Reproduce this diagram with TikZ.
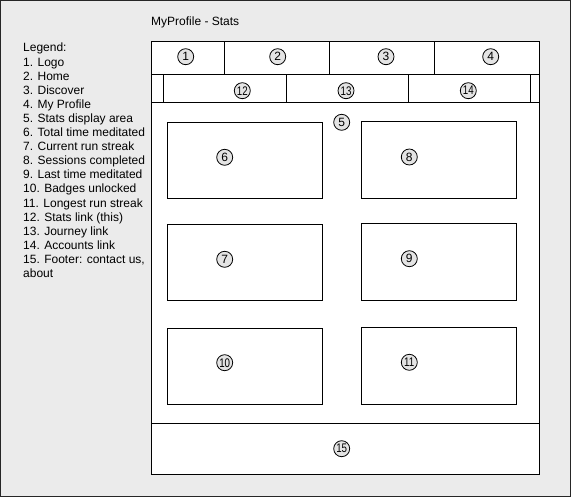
\documentclass[tikz,border=0pt]{standalone}
\usepackage{fontspec}
\setmainfont{Liberation Sans}
\definecolor{bg}{HTML}{EBEBEB}
\definecolor{badgefill}{HTML}{E4E4E4}
\tikzset{
  frame/.style={draw=black, line width=1pt},
  panel/.style={draw=black, line width=1pt, fill=white},
  badge/.style={circle, draw=black, line width=0.8pt, fill=badgefill, minimum size=16pt, inner sep=0pt, font=\fontsize{12}{12}\selectfont},
  badgetwo/.style={badge, font=\fontsize{12.5}{12.5}\selectfont},
  legendline/.style={anchor=base west, inner sep=0pt, font=\fontsize{12}{14}\selectfont}
}
\newcommand{\twodig}[1]{\makebox[10pt]{\scalebox{0.78}[1]{#1}}}
\begin{document}
\begin{tikzpicture}[x=1pt,y=-1pt]
\useasboundingbox (0,0) rectangle (571,497);
% background and outer border
\draw[fill=bg, draw=black!85, line width=1pt] (0.5,0.5) rectangle (570.5,496.5);
% title
\node[legendline] (title) at (151,25.5) {MyProfile - Stats};
% legend
\foreach \t [count=\i from 0] in {Legend:, 1. Logo, 2. Home, 3. Discover, 4. My Profile, 5. Stats display area, 6. Total time meditated, 7. Current run streak, 8. Sessions completed, 9. Last time meditated, 10. Badges unlocked, 11. Longest run streak, 12. Stats link (this), 13. Journey link, 14. Accounts link, {15. Footer: contact us,}, about}
  \node[legendline] (leg\i) at (23,{52+\i*14.1}) {\t};
% main frame
\draw[panel] (151.5,41.5) rectangle (539.5,474);
% header row
\draw[frame] (151.5,75) -- (539.5,75);
\draw[frame] (224.5,41.5) -- (224.5,75);
\draw[frame] (329.5,41.5) -- (329.5,75);
\draw[frame] (434.5,41.5) -- (434.5,75);
% nav row
\draw[frame] (151.5,102.5) -- (539.5,102.5);
\draw[frame] (163.5,75) -- (163.5,102.5);
\draw[frame] (286.5,75) -- (286.5,102.5);
\draw[frame] (408.5,75) -- (408.5,102.5);
\draw[frame] (530.5,75) -- (530.5,102.5);
% footer
\draw[frame] (151.5,423.5) -- (539.5,423.5);
% stat boxes
\draw[panel] (167.5,122.5) rectangle (322.5,199);
\draw[panel] (361.5,121.5) rectangle (516.5,198.5);
\draw[panel] (167.5,224.5) rectangle (322.5,301);
\draw[panel] (361.5,223.5) rectangle (516.5,300.5);
\draw[panel] (167.5,328.5) rectangle (322.5,405);
\draw[panel] (361.5,327.5) rectangle (516.5,404.5);
% badges
\node[badge] (b1) at (185.7,56.7) {1};
\node[badge] (b2) at (277.7,56.7) {2};
\node[badge] (b3) at (386,56.7) {3};
\node[badge] (b4) at (490.7,56.7) {4};
\node[badgetwo] (b12) at (242.3,90.7) {\twodig{12}};
\node[badgetwo] (b13) at (346,90.7) {\twodig{13}};
\node[badgetwo] (b14) at (468.3,90.7) {\twodig{14}};
\node[badge] (b5) at (341.7,122.3) {5};
\node[badge] (b6) at (224.7,157.3) {6};
\node[badge] (b8) at (409.3,157) {8};
\node[badge] (b7) at (224.7,259.3) {7};
\node[badge] (b9) at (409.3,258.7) {9};
\node[badgetwo] (b10) at (224.7,362.7) {\twodig{10}};
\node[badgetwo] (b11) at (409.3,362.3) {\twodig{11}};
\node[badgetwo] (b15) at (341.7,448.7) {\twodig{15}};
\end{tikzpicture}
\end{document}
